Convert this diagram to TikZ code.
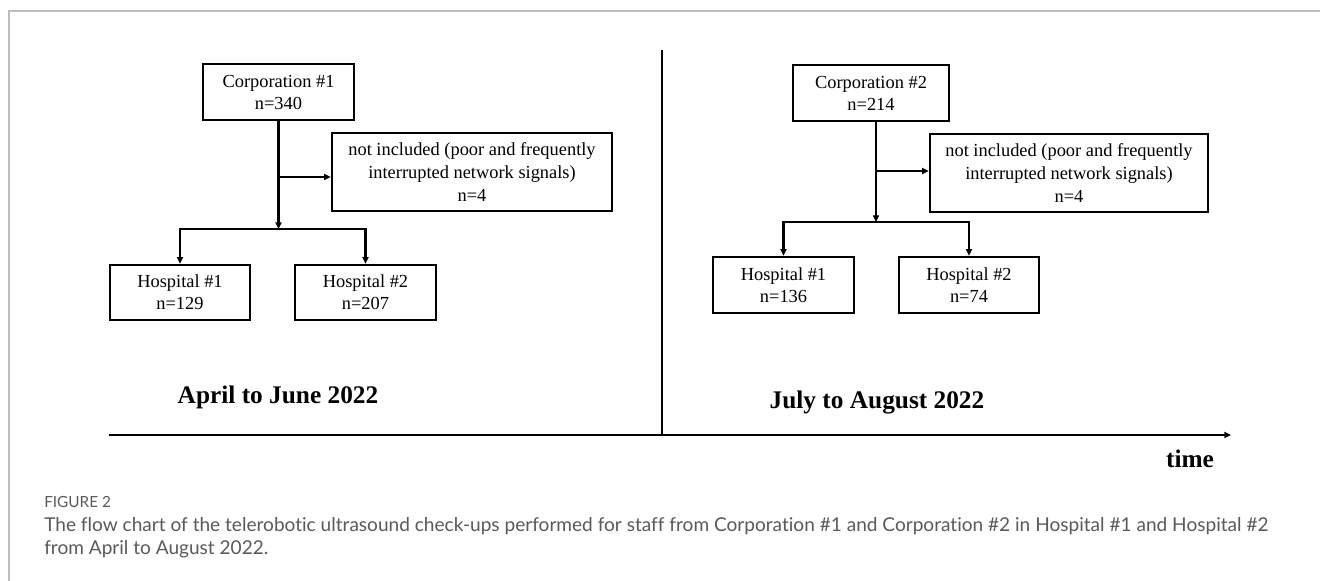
\documentclass[tikz,border=0pt]{standalone}
\usepackage{fontspec}
\setmainfont{Liberation Serif}
\newfontfamily\capfont[Ligatures={NoCommon}]{Lato}
\usetikzlibrary{arrows.meta}
\definecolor{framegray}{HTML}{BDBDBD}
\definecolor{capgray}{HTML}{5A5A5A}
\begin{document}
\begin{tikzpicture}[x=0.75pt,y=-0.75pt,
  box/.style={draw=black,line width=1.8pt,align=center,inner sep=0pt,
    font=\fontsize{13.8}{16.5}\selectfont},
  conn/.style={line width=1.6pt},
  arr/.style={line width=1.6pt,-{Triangle[length=5pt,width=4.5pt]}},
  period/.style={font=\fontsize{19}{22}\selectfont\bfseries},
]
\useasboundingbox (0,0) rectangle (1320,581);
\fill[white] (0,0) rectangle (1320,581);
\draw[framegray,line width=0.9pt] (9,581) -- (9,11) -- (1320,11);

% left period
\node[box,minimum width=113.25pt,minimum height=42pt] (corp1) at (278.5,92) {Corporation \#1\\n=340};
\node[box,minimum width=210pt,minimum height=58.5pt,font=\fontsize{13.8}{17}\selectfont] (excl1) at (472,172) {not included (poor and frequently\\interrupted network signals)\\n=4};
\node[box,minimum width=105pt,minimum height=41.25pt] (h1L) at (180,292.5) {Hospital \#1\\n=129};
\node[box,minimum width=105.75pt,minimum height=41.25pt] (h2L) at (365.5,292.5) {Hospital \#2\\n=207};
\coordinate (bL) at (278.5,177);
\coordinate (jL) at (278.5,229);
\draw[arr] (corp1.south) -- (jL);
\draw[arr] (bL) -- (bL -| excl1.west);
\draw[arr] (jL) -| (h1L.north);
\draw[arr] (jL) -| (h2L.north);

% right period
\node[box,minimum width=117pt,minimum height=42pt] (corp2) at (871,93) {Corporation \#2\\n=214};
\node[box,minimum width=208.5pt,minimum height=58.5pt,font=\fontsize{13.8}{17}\selectfont] (excl2) at (1069,173) {not included (poor and frequently\\interrupted network signals)\\n=4};
\node[box,minimum width=105.75pt,minimum height=42pt] (h1R) at (783.5,285) {Hospital \#1\\n=136};
\node[box,minimum width=105pt,minimum height=42pt] (h2R) at (969,285) {Hospital \#2\\n=74};
\coordinate (bR) at (876,171);
\coordinate (jR) at (876,222);
\draw[arr] (corp2.south -| bR) -- (jR);
\draw[arr] (bR) -- (bR -| excl2.west);
\draw[arr] (jR) -| (h1R.north);
\draw[arr] (jR) -| (h2R.north);

% timeline
\coordinate (dTop) at (662,50);
\coordinate (dBot) at (662,435);
\coordinate (aL) at (109,435);
\coordinate (aR) at (1231,435);
\draw[conn] (dTop) -- (dBot);
\draw[arr] (aL) -- (aR);
\node[period] (p1) at (278,397) {April to June 2022};
\node[period] (p2) at (877,403) {July to August 2022};
\node[period] (tm) at (1190,459) {time};

% caption
\node[anchor=west,inner sep=0pt,text=capgray,font=\capfont\fontsize{11.5}{13}\selectfont] (fig) at (44,502) {FIGURE 2};
\node[anchor=west,inner sep=0pt,text=capgray,font=\capfont\fontsize{14.3}{17}\selectfont] (c1) at (44,526) {The flow chart of the telerobotic ultrasound check-ups performed for staff from Corporation \#1 and Corporation \#2 in Hospital \#1 and Hospital \#2};
\node[anchor=west,inner sep=0pt,text=capgray,font=\capfont\fontsize{14.3}{17}\selectfont] (c2) at (44,549) {from April to August 2022.};
\end{tikzpicture}
\end{document}
